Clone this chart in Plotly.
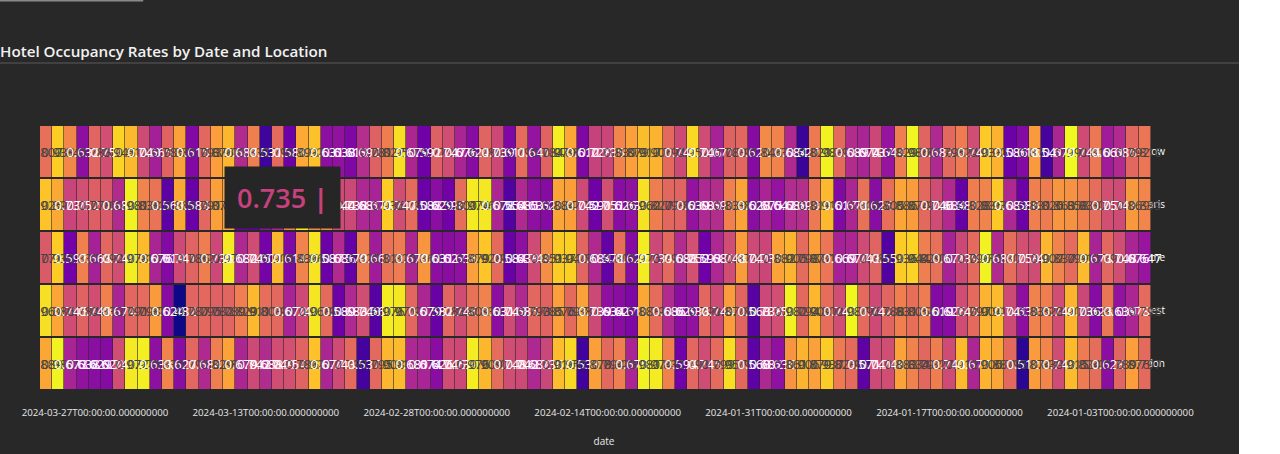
import pandas as pd
import plotly.graph_objects as go

# dates are shown newest first, as in the original page
dates = [str(d) for d in pd.date_range("2024-01-01", "2024-03-31", freq="D").values[::-1]]
locations = ["Moscow", "Paris", "Rome", "Budapest", "London"]

moscow = [0.807, 0.938, 0.842, 0.632, 0.788, 0.751, 0.945, 0.912, 0.743, 0.665,
          0.785, 0.881, 0.615, 0.793, 0.876, 0.909, 0.687, 0.831, 0.531, 0.796,
          0.589, 0.893, 0.922, 0.631, 0.638, 0.613, 0.692, 0.781, 0.827, 0.958,
          0.679, 0.592, 0.779, 0.747, 0.676, 0.624, 0.786, 0.739, 0.611, 0.798,
          0.641, 0.784, 0.979, 0.887, 0.612, 0.728, 0.735, 0.839, 0.879, 0.917,
          0.906, 0.794, 0.741, 0.952, 0.746, 0.671, 0.783, 0.791, 0.622, 0.846,
          0.835, 0.684, 0.527, 0.821, 0.983, 0.797, 0.689, 0.674, 0.737, 0.644,
          0.829, 0.986, 0.787, 0.683, 0.795, 0.824, 0.749, 0.933, 0.903, 0.586,
          0.618, 0.871, 0.541, 0.677, 0.991, 0.744, 0.818, 0.661, 0.686, 0.792,
          0.816]
paris = [0.925, 0.891, 0.731, 0.752, 0.778, 0.769, 0.687, 0.981, 0.838, 0.812,
         0.567, 0.889, 0.583, 0.791, 0.878, 0.882, 0.576, 0.571, 0.635, 0.672,
         0.834, 0.977, 0.845, 0.842, 0.744, 0.738, 0.681, 0.673, 0.936, 0.747,
         0.799, 0.588, 0.629, 0.596, 0.801, 0.974, 0.969, 0.678, 0.554, 0.685,
         0.633, 0.621, 0.884, 0.877, 0.742, 0.591, 0.751, 0.626, 0.637, 0.962,
         0.827, 0.793, 0.786, 0.639, 0.683, 0.691, 0.833, 0.883, 0.628, 0.675,
         0.642, 0.688, 0.693, 0.819, 0.911, 0.617, 0.679, 0.808, 0.625, 0.805,
         0.886, 0.874, 0.795, 0.746, 0.684, 0.581, 0.828, 0.836, 0.931, 0.682,
         0.586, 0.831, 0.826, 0.863, 0.858, 0.833, 0.802, 0.751, 0.743, 0.869,
         0.839]
rome = [0.771, 0.934, 0.597, 0.832, 0.668, 0.792, 0.749, 0.978, 0.914, 0.676,
        0.619, 0.741, 0.786, 0.827, 0.738, 0.973, 0.682, 0.745, 0.601, 0.908,
        0.614, 0.836, 0.966, 0.587, 0.686, 0.579, 0.829, 0.661, 0.811, 0.825,
        0.679, 0.864, 0.631, 0.627, 0.636, 0.879, 0.928, 0.797, 0.584, 0.633,
        0.744, 0.851, 0.937, 0.942, 0.789, 0.684, 0.578, 0.803, 0.622, 0.975,
        0.739, 0.794, 0.688, 0.752, 0.593, 0.681, 0.748, 0.873, 0.741, 0.735,
        0.882, 0.905, 0.798, 0.877, 0.815, 0.669, 0.677, 0.743, 0.787, 0.553,
        0.936, 0.944, 0.829, 0.806, 0.671, 0.739, 0.796, 0.981, 0.687, 0.801,
        0.753, 0.746, 0.907, 0.837, 0.799, 0.913, 0.673, 0.791, 0.748, 0.676,
        0.647]
budapest = [0.961, 0.886, 0.745, 0.784, 0.749, 0.833, 0.674, 0.791, 0.798, 0.871,
            0.624, 0.482, 0.787, 0.795, 0.782, 0.789, 0.829, 0.911, 0.803, 0.794,
            0.672, 0.741, 0.968, 0.796, 0.589, 0.683, 0.748, 0.561, 0.976, 0.971,
            0.792, 0.679, 0.582, 0.788, 0.746, 0.809, 0.834, 0.631, 0.743, 0.685,
            0.793, 0.785, 0.876, 0.797, 0.881, 0.739, 0.634, 0.627, 0.611, 0.888,
            0.799, 0.686, 0.629, 0.638, 0.791, 0.744, 0.872, 0.786, 0.563, 0.738,
            0.751, 0.982, 0.794, 0.909, 0.802, 0.747, 0.987, 0.796, 0.742, 0.788,
            0.831, 0.805, 0.826, 0.619, 0.626, 0.745, 0.797, 0.904, 0.915, 0.741,
            0.632, 0.835, 0.828, 0.749, 0.906, 0.736, 0.623, 0.817, 0.639, 0.678,
            0.798]
london = [0.889, 0.984, 0.673, 0.638, 0.629, 0.622, 0.747, 0.972, 0.979, 0.633,
          0.836, 0.627, 0.791, 0.684, 0.829, 0.882, 0.679, 0.742, 0.688, 0.749,
          0.754, 0.786, 0.924, 0.677, 0.743, 0.797, 0.537, 0.795, 0.908, 0.913,
          0.681, 0.674, 0.626, 0.745, 0.739, 0.976, 0.909, 0.801, 0.748, 0.742,
          0.682, 0.736, 0.916, 0.951, 0.533, 0.878, 0.794, 0.829, 0.675, 0.981,
          0.974, 0.832, 0.594, 0.791, 0.745, 0.799, 0.957, 0.793, 0.568, 0.682,
          0.636, 0.861, 0.906, 0.879, 0.937, 0.823, 0.796, 0.571, 0.741, 0.748,
          0.883, 0.834, 0.792, 0.827, 0.743, 0.912, 0.677, 0.906, 0.887, 0.795,
          0.512, 0.874, 0.839, 0.746, 0.915, 0.824, 0.801, 0.628, 0.789, 0.876,
          0.797]

tick_dates = dates[4::14]

fig = go.Figure(go.Heatmap(
    z=[moscow, paris, rome, budapest, london],
    x=dates,
    y=locations,
    colorscale="Plasma",
    showscale=False,
    xgap=0.6,
    ygap=2,
    texttemplate="%{z}",
    textfont=dict(size=13, family="Open Sans"),
))

fig.update_layout(
    width=1239,
    height=454,
    paper_bgcolor="#282828",
    plot_bgcolor="#282828",
    font=dict(family="Open Sans", color="#e8e8e8", size=9.7),
    margin=dict(l=40, r=71, t=125, b=64),
    title=dict(text="Hotel Occupancy Rates by Date and Location", x=0, xref="container",
               xanchor="left", y=1 - 52 / 454, yanchor="middle",
               font=dict(size=15.2, color="#f2f2f2", weight=600)),
    xaxis=dict(type="category", range=[-0.5, 91.9], tickvals=tick_dates, ticktext=tick_dates,
               showgrid=False, zeroline=False, ticklabelstandoff=15, automargin=False,
               title=dict(text="date", standoff=20, font=dict(size=10))),
    yaxis=dict(autorange="reversed", side="right", ticklabelposition="inside",
               layer="below traces", showgrid=False, zeroline=False, automargin=False,
               tickfont=dict(size=10)),
    shapes=[
        dict(type="line", xref="paper", yref="paper", x0=-0.036, x1=1.08,
             y0=1 + 62 / 265, y1=1 + 62 / 265, line=dict(color="#5a5a5a", width=1)),
        dict(type="line", xref="paper", yref="paper", x0=-0.036, x1=0.0915,
             y0=1 + 124.5 / 265, y1=1 + 124.5 / 265, line=dict(color="#8a8a8a", width=2)),
    ],
    annotations=[dict(text="0.735 <b>|</b>", xref="paper", yref="paper",
                      x=(282 - 40) / 1128, y=1 - (197 - 125) / 265,
                      xanchor="center", yanchor="middle",
                      showarrow=False, bgcolor="#262626", borderpad=12,
                      font=dict(size=27, color="#c8417e", family="Open Sans", weight=600))],
)

fig.write_html("out.html", config={"displayModeBar": False},
               post_script="document.body.style.margin = '0';")
